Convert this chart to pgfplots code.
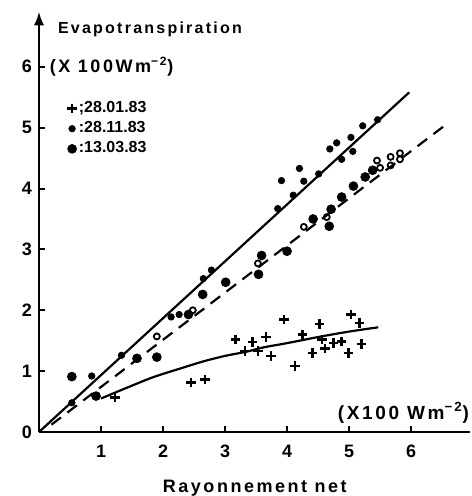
\documentclass[border=0pt]{standalone}
\usepackage{fontspec}
\setmainfont{Liberation Sans}
\newfontfamily\wide[LetterSpace=14]{Liberation Sans}
\usepackage{pgfplots}
\pgfplotsset{compat=1.18}

\begin{document}
\begin{tikzpicture}
\begin{axis}[name=ax,
    scale only axis, width=215.5pt, height=210pt,
    xmin=0, xmax=6.95, ymin=0, ymax=6.9,
    axis x line=bottom, axis y line=left,
    x axis line style={-, line width=1.3pt},
    y axis line style={-latex, line width=1.3pt},
    xtick={1,...,6}, ytick={0,...,6},
    tick align=inside, major tick length=3pt,
    tick style={black, line width=1pt},
    ticklabel style={font=\bfseries\fontsize{9}{10}\selectfont},
    xticklabel style={yshift=-3pt},
    /pgf/number format/assume math mode=true,
    clip=false,
    legend style={at={(axis cs:0.45,5.47)}, anchor=north west, draw=none, fill=none,
        font=\bfseries\fontsize{8}{9}\selectfont, row sep=1pt, inner sep=0pt,
        nodes={inner sep=1pt}},
    legend cell align=left,
]
% 28.01.83
\addplot[only marks, mark=+, mark size=2.4pt, mark options={line width=1.2pt}] coordinates {
(1.23,0.57)(2.45,0.81)(2.68,0.86)(3.17,1.52)(3.32,1.33)(3.44,1.48)(3.53,1.33)
(3.66,1.56)(3.74,1.25)(3.95,1.85)(4.13,1.08)(4.25,1.60)(4.41,1.30)(4.52,1.77)
(4.56,1.52)(4.61,1.37)(4.75,1.46)(4.88,1.49)(4.99,1.30)(5.03,1.93)(5.17,1.79)(5.20,1.45)
};
\addlegendentry{;28.01.83}
% 28.11.83
\addplot[only marks, mark=*, mark size=1.6pt] coordinates {
(0.53,0.48)(0.85,0.92)(1.33,1.26)(2.13,1.89)(2.26,1.93)(2.65,2.52)(2.78,2.66)
(3.85,3.67)(3.91,4.13)(4.10,3.89)(4.20,4.33)(4.27,4.12)(4.51,4.24)(4.69,4.65)
(4.80,4.75)(4.88,4.48)(5.03,4.84)(5.06,4.61)(5.22,5.03)(5.46,5.13)
};
\addlegendentry{:28.11.83}
% 13.03.83
\addplot[only marks, mark=*, mark size=2.2pt] coordinates {
(0.53,0.91)(0.92,0.59)(1.58,1.21)(1.90,1.23)(2.41,1.93)(2.64,2.26)(3.01,2.46)
(3.54,2.59)(3.59,2.90)(4.00,2.97)(4.42,3.50)(4.68,3.38)(4.71,3.66)(4.88,3.86)
(5.07,4.04)(5.26,4.19)(5.38,4.30)
};
\addlegendentry{:13.03.83}
% open circles
\addplot[only marks, mark=o, mark size=1.5pt, mark options={line width=0.9pt}, forget plot] coordinates {
(1.90,1.57)(2.48,2.00)(3.53,2.77)(4.27,3.37)(4.64,3.53)(5.45,4.46)(5.50,4.34)
(5.67,4.52)(5.67,4.38)(5.82,4.58)(5.82,4.48)
};
% fitted lines
\addplot[black, line width=1.1pt, forget plot] coordinates {(0,0)(5.97,5.58)};
\addplot[black, line width=1.1pt, dash pattern=on 6pt off 4pt, forget plot] coordinates {(0.2,0.12)(6.6,5.08)};
\addplot[black, line width=1.1pt, smooth, forget plot] coordinates {
(1.0,0.55)(1.4,0.72)(1.84,0.9)(2.3,1.05)(2.65,1.16)(3.0,1.25)(3.35,1.32)
(3.62,1.39)(4.0,1.46)(4.5,1.56)(5.0,1.65)(5.47,1.72)
};
% labels
\node[anchor=west, font=\wide\bfseries\fontsize{8}{9}\selectfont, inner sep=0pt] at (axis cs:0.3,6.62) {Evapotranspiration};
\node[anchor=west, font=\wide\bfseries\fontsize{9}{10}\selectfont, inner sep=0pt] at (axis cs:0.17,6.0) {(X 100Wm\textsuperscript{−2})};
\node[anchor=east, font=\wide\bfseries\fontsize{9.5}{10}\selectfont, inner sep=0pt] at (axis cs:6.94,0.31) {(X100 Wm\textsuperscript{−2})};
\node[font=\wide\bfseries\fontsize{9}{10}\selectfont, inner sep=0pt] at ([yshift=-28pt]axis cs:3.48,0) {Rayonnement net};
\end{axis}
\pgfresetboundingbox
\path[use as bounding box] ([shift={(-19.5pt,-32pt)}]ax.south west) rectangle ([shift={(0.5pt,6pt)}]ax.north east);
\end{tikzpicture}
\end{document}
